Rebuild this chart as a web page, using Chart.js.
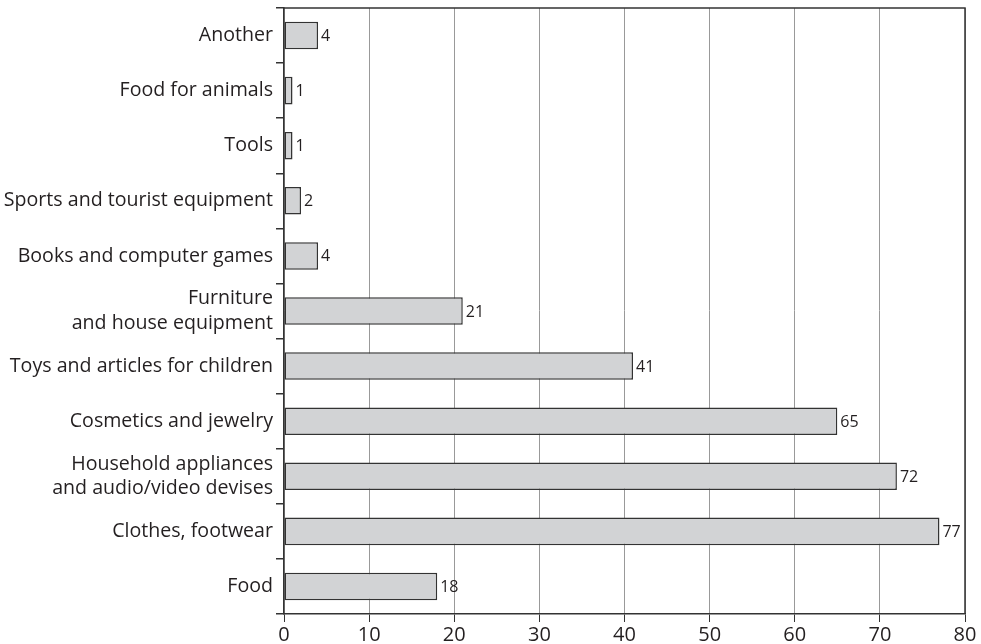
<!DOCTYPE html>
<html>
<head>
<meta charset="utf-8">
<script src="https://cdn.jsdelivr.net/npm/chart.js@4/dist/chart.umd.min.js"></script>
<style>
  body { margin: 0; background: #fff; }
  #wrap { width: 981px; height: 644px; }
</style>
</head>
<body>
<div id="wrap"><canvas id="purchaseChart" width="981" height="644"></canvas></div>
<script>
// categories, top to bottom
const categories = [
    'Another',
    'Food for animals',
    'Tools',
    'Sports and tourist equipment',
    'Books and computer games',
    ['Furniture', 'and house equipment'],
    'Toys and articles for children',
    'Cosmetics and jewelry',
    ['Household appliances', 'and audio/video devises'],
    'Clothes, footwear',
    'Food'
];
const values = [4, 1, 1, 2, 4, 21, 41, 65, 72, 77, 18];
const xTicks = [0, 10, 20, 30, 40, 50, 60, 70, 80];

const textColor = '#231f20';
const fontFamily = '"Open Sans", sans-serif';

// number next to the end of each bar
const valueLabels = {
    id: 'valueLabels',
    afterDatasetsDraw(chart) {
        const ctx = chart.ctx;
        const meta = chart.getDatasetMeta(0);
        ctx.save();
        ctx.fillStyle = textColor;
        ctx.font = '16px ' + fontFamily;
        ctx.textBaseline = 'middle';
        ctx.textAlign = 'left';
        meta.data.forEach((bar, i) => {
            ctx.fillText(String(values[i]), bar.x + 3, bar.y + 1);
        });
        ctx.restore();
    }
};

// top and right frame lines
const frame = {
    id: 'frame',
    afterDraw(chart) {
        const a = chart.chartArea;
        const ctx = chart.ctx;
        ctx.save();
        ctx.strokeStyle = '#333';
        ctx.lineWidth = 1.5;
        ctx.beginPath();
        ctx.moveTo(a.left, a.top);
        ctx.lineTo(a.right, a.top);
        ctx.lineTo(a.right, a.bottom);
        ctx.stroke();
        ctx.restore();
    }
};

const ctx = document.getElementById('purchaseChart').getContext('2d');
const purchaseChart = new Chart(ctx, {
    type: 'bar',
    data: {
        labels: categories,
        datasets: [{
            data: values,
            backgroundColor: '#d2d3d5',
            borderColor: '#333',
            borderWidth: 1.5,
            borderSkipped: false,
            barPercentage: 0.5,
            categoryPercentage: 1
        }]
    },
    options: {
        indexAxis: 'y',
        responsive: false,
        animation: false,
        layout: { padding: { top: 8, right: 16, left: 0, bottom: 0 } },
        plugins: {
            legend: { display: false },
            tooltip: { enabled: false }
        },
        scales: {
            x: {
                min: 0,
                max: 80,
                afterBuildTicks: (scale) => {
                    scale.ticks = xTicks.map(v => ({ value: v }));
                },
                afterFit: (scale) => { scale.height = 30; },
                grid: { color: '#999', tickColor: '#333', tickLength: 8, lineWidth: 1 },
                border: { color: '#333', width: 1.5 },
                ticks: {
                    color: textColor,
                    padding: 1,
                    font: { family: fontFamily, size: 20 }
                }
            },
            y: {
                afterFit: (scale) => {
                    scale.width = 284;
                    scale.paddingTop = 0;
                    scale.paddingBottom = 0;
                },
                grid: { offset: true, drawOnChartArea: false, tickLength: 8, color: '#333', lineWidth: 1.5 },
                border: { color: '#333', width: 1.5 },
                ticks: {
                    color: textColor,
                    padding: 3,
                    font: { family: fontFamily, size: 19.6, lineHeight: 1.25 }
                }
            }
        }
    },
    plugins: [valueLabels, frame]
});
</script>
</body>
</html>
